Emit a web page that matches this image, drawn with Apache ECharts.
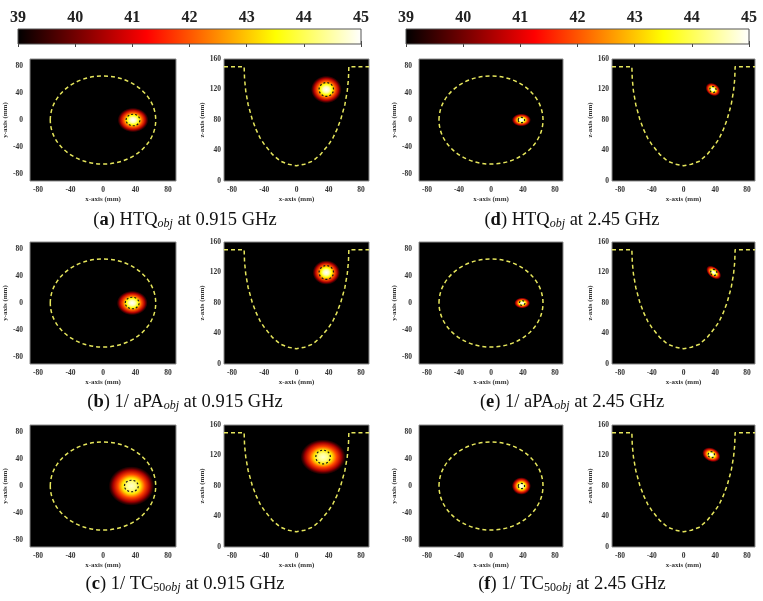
<!DOCTYPE html>
<html>
<head>
<meta charset="utf-8">
<script src="https://cdn.jsdelivr.net/npm/echarts@6/dist/echarts.min.js"></script>
<style>
html, body { margin: 0; padding: 0; background: #fff; }
#main { width: 763px; height: 601px; }
</style>
</head>
<body>
<div id="main"></div>
<script>
// temperature scale (deg C), MATLAB "hot" colormap
var tempTicks = [39, 40, 41, 42, 43, 44, 45];
var hotTemps = [39, 41.25, 43.5, 45];
var hotColors = ['#000000', '#ff0000', '#ffff00', '#ffffff'];

// breast outline (mm): circle in the xy view, cross-section in the xz view
var outlineRadius = 65;
var profileX = [-90, -65, -64.5, -63, -60, -55, -50, -45, -40, -30, -20, -10, 0, 10, 20, 30, 40, 45, 50, 55, 60, 63, 64.5, 65, 90];
var profileZ = [150, 150, 134, 118, 100, 81, 67, 56, 48, 35, 26, 22, 20, 22, 26, 35, 48, 56, 67, 81, 100, 118, 134, 150, 150];

// the six cases
var panelLetters = ['a', 'b', 'c', 'd', 'e', 'f'];
var goalNames = ['HTQ', '1/ aPA', '1/ TC', 'HTQ', '1/ aPA', '1/ TC'];
var goalSubNum = ['', '', '50', '', '', '50'];
var freqLabels = ['0.915 GHz', '0.915 GHz', '0.915 GHz', '2.45 GHz', '2.45 GHz', '2.45 GHz'];

// heated spot: [centre x, centre y or z, half width, half height, tilt (deg), peak degC, target radius]
var spotsXY = [
  [37, 0, 19, 18, 0, 45, 8.5],
  [36, 0, 19, 18, 0, 45, 8.5],
  [35, 0, 28, 29, 0, 44.7, 8.5],
  [38, 0, 12, 9.5, 0, 45, 4],
  [39, 0, 10, 8, 0, 45, 3.5],
  [38, 0, 12, 13, 0, 45, 4]
];
var spotsXZ = [
  [37, 120, 19, 18, 0, 45, 9],
  [37, 120, 17, 16, 0, 45, 9],
  [33, 118, 28, 23, 0, 44.7, 9],
  [37, 120, 10, 8, -35, 45, 4],
  [38, 120, 11, 7, -40, 45, 4],
  [35, 121, 12, 9, -25, 45, 4]
];

// radial fall-off of the glow: [offset, fraction of peak rise]
var glowFalloff = [[0, 1], [0.2, 0.93], [0.4, 0.75], [0.6, 0.5], [0.8, 0.26], [0.9, 0.11], [1, 0]];

function hotColor(t) {
  if (t <= hotTemps[0]) return hotColors[0];
  for (var i = 1; i < hotTemps.length; i++) {
    if (t <= hotTemps[i]) {
      var f = (t - hotTemps[i - 1]) / (hotTemps[i] - hotTemps[i - 1]);
      return echarts.color.lerp(f, [hotColors[i - 1], hotColors[i]]);
    }
  }
  return hotColors[hotColors.length - 1];
}

var serif = "'Liberation Serif', 'Times New Roman', serif";
var capFont = "'Palatino Linotype', 'Book Antiqua', Palatino, 'Liberation Serif', serif";
var outlineColor = '#e6e65c';

// layout
var colLefts = [30, 224, 419, 612];
var colWidths = [146, 145, 144, 143];
var rowTops = [59, 242, 425];
var plotH = 122;
var captionX = [185, 572];
var captionY = [220, 402, 584];

var grids = [], xAxes = [], yAxes = [], series = [], graphics = [];

// colour bars
[18, 406].forEach(function (left, b) {
  grids.push({ left: left, top: 29, width: 343, height: 15, show: false });
  xAxes.push({
    gridIndex: b, type: 'value', min: 39, max: 45, interval: 1, position: 'top',
    axisLine: { show: false }, splitLine: { show: false },
    axisTick: { inside: true, length: 3, lineStyle: { color: '#444' } },
    axisLabel: { margin: 3, fontFamily: serif, fontWeight: 'bold', fontSize: 16, color: '#222',
      customValues: tempTicks }
  });
  xAxes.push({
    gridIndex: b, type: 'value', min: 39, max: 45, interval: 1, position: 'bottom',
    axisLine: { show: false }, splitLine: { show: false }, axisLabel: { show: false },
    axisTick: { inside: true, length: 3, lineStyle: { color: '#444' } }
  });
  yAxes.push({ gridIndex: b, type: 'value', min: 0, max: 1, show: false });
  series.push({
    type: 'custom', xAxisIndex: b * 2, yAxisIndex: b, z: 1,
    data: [[39, 45]],
    renderItem: function (params, api) {
      var p0 = api.coord([api.value(0), 1]);
      var p1 = api.coord([api.value(1), 0]);
      var stops = hotTemps.map(function (t, i) {
        return { offset: (t - 39) / 6, color: hotColors[i] };
      });
      return {
        type: 'rect',
        shape: { x: p0[0], y: p0[1], width: p1[0] - p0[0], height: p1[1] - p0[1] },
        style: { fill: new echarts.graphic.LinearGradient(0, 0, 1, 0, stops), stroke: '#555', lineWidth: 1 }
      };
    }
  });
});

function renderSpot(params, api) {
  var c = api.coord([api.value(0), api.value(1)]);
  var s = api.size([api.value(2) * 2, api.value(3) * 2]);
  var ring = api.size([api.value(6) * 2, api.value(6) * 2]);
  var peak = api.value(5);
  var stops = glowFalloff.map(function (g) {
    return { offset: g[0], color: hotColor(39 + (peak - 39) * g[1]) };
  });
  return {
    type: 'group',
    children: [{
      type: 'circle', x: c[0], y: c[1],
      rotation: api.value(4) * Math.PI / 180, scaleY: s[1] / s[0],
      shape: { cx: 0, cy: 0, r: s[0] / 2 },
      style: { fill: new echarts.graphic.RadialGradient(0.5, 0.5, 0.5, stops) }
    }, {
      type: 'ellipse',
      shape: { cx: c[0], cy: c[1], rx: ring[0] / 2, ry: ring[1] / 2 },
      style: { fill: null, stroke: '#181818', lineWidth: 1.2, lineDash: [2, 2] }
    }]
  };
}

function renderOutline(params, api) {
  var c = api.coord([api.value(0), api.value(1)]);
  var s = api.size([api.value(2) * 2, api.value(2) * 2]);
  return {
    type: 'ellipse',
    shape: { cx: c[0], cy: c[1], rx: s[0] / 2, ry: s[1] / 2 },
    style: { fill: null, stroke: outlineColor, lineWidth: 1.5, lineDash: [4, 3] }
  };
}

var tickStyle = { fontFamily: serif, fontWeight: 'bold', fontSize: 7.5, color: '#333' };
var nameStyle = { fontFamily: serif, fontWeight: 'bold', fontSize: 7, color: '#333' };
var profile = profileX.map(function (x, i) { return [x, profileZ[i]]; });

for (var i = 0; i < 6; i++) {
  var row = i % 3, side = i < 3 ? 0 : 1;
  for (var view = 0; view < 2; view++) {
    var k = i * 2 + view;
    var gi = 2 + k;
    var col = side * 2 + view;
    grids.push({
      left: colLefts[col], top: rowTops[row], width: colWidths[col], height: plotH,
      show: true, backgroundColor: '#000', borderColor: '#8a8a8a', borderWidth: 1
    });
    xAxes.push({
      gridIndex: gi, type: 'value', min: -90, max: 90,
      name: 'x-axis (mm)', nameLocation: 'middle', nameGap: 15, nameTextStyle: nameStyle,
      axisLine: { show: false }, axisTick: { show: false }, splitLine: { show: false },
      axisLabel: Object.assign({ margin: 5, customValues: [-80, -40, 0, 40, 80] }, tickStyle)
    });
    if (view === 0) {
      yAxes.push({
        gridIndex: gi, type: 'value', min: -90, max: 90,
        name: 'y-axis (mm)', nameLocation: 'middle', nameGap: 17, nameTextStyle: nameStyle,
        axisLine: { show: false }, axisTick: { show: false }, splitLine: { show: false },
        axisLabel: Object.assign({ margin: 7, customValues: [-80, -40, 0, 40, 80] }, tickStyle)
      });
      series.push({
        type: 'custom', xAxisIndex: 4 + k, yAxisIndex: 2 + k, clip: true, z: 2,
        data: [spotsXY[i]], renderItem: renderSpot
      });
      series.push({
        type: 'custom', xAxisIndex: 4 + k, yAxisIndex: 2 + k, clip: true, z: 3,
        data: [[0, 0, outlineRadius]], renderItem: renderOutline
      });
    } else {
      yAxes.push({
        gridIndex: gi, type: 'value', min: 0, max: 160, interval: 40,
        name: 'z-axis (mm)', nameLocation: 'middle', nameGap: 16, nameTextStyle: nameStyle,
        axisLine: { show: false }, axisTick: { show: false }, splitLine: { show: false },
        axisLabel: Object.assign({ margin: 3 }, tickStyle)
      });
      series.push({
        type: 'custom', xAxisIndex: 4 + k, yAxisIndex: 2 + k, clip: true, z: 2,
        data: [spotsXZ[i]], renderItem: renderSpot
      });
      series.push({
        type: 'line', xAxisIndex: 4 + k, yAxisIndex: 2 + k, z: 3,
        data: profile, symbol: 'none', silent: true,
        lineStyle: { color: outlineColor, width: 1.5, type: [4, 3] }
      });
    }
  }
  // caption
  var txt = '{n|(}{b|' + panelLetters[i] + '}{n|) ' + goalNames[i] + '}' +
    (goalSubNum[i] ? '{sn|' + goalSubNum[i] + '}' : '') +
    '{s|obj}{n| at ' + freqLabels[i] + '}';
  graphics.push({
    type: 'text', x: captionX[side], y: captionY[row],
    style: {
      text: txt, align: 'center', verticalAlign: 'middle',
      rich: {
        n: { fontFamily: capFont, fontSize: 18.5, fill: '#111' },
        b: { fontFamily: capFont, fontSize: 18.5, fontWeight: 'bold', fill: '#111' },
        sn: { fontFamily: capFont, fontSize: 12, fill: '#111', verticalAlign: 'bottom' },
        s: { fontFamily: capFont, fontSize: 12, fontStyle: 'italic', fill: '#111', verticalAlign: 'bottom' }
      }
    }
  });
}

var chart = echarts.init(document.getElementById('main'), null, { renderer: 'canvas' });
chart.setOption({
  animation: false,
  backgroundColor: '#fff',
  grid: grids,
  xAxis: xAxes,
  yAxis: yAxes,
  series: series,
  graphic: graphics
});
</script>
</body>
</html>
